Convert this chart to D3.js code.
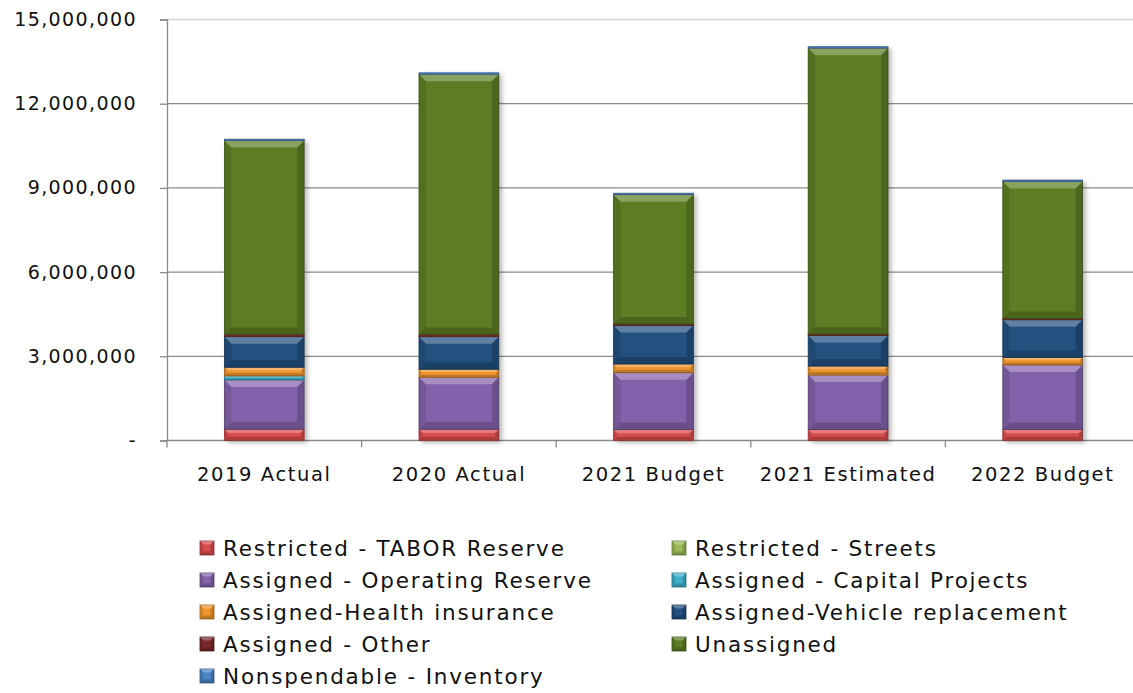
<!DOCTYPE html>
<html>
<head>
<meta charset="utf-8">
<script src="https://cdn.jsdelivr.net/npm/d3@7"></script>
<style>
  body { margin: 0; background: #fff; }
  svg { display: block; }
  text { font-family: "DejaVu Sans", sans-serif; fill: #111; }
</style>
</head>
<body>
<div id="chart"></div>
<script>
// fund balance by category, stacked bottom to top

const categories = ["2019 Actual", "2020 Actual", "2021 Budget", "2021 Estimated", "2022 Budget"];

const taborReserve       = [400000, 400000, 390000, 390000, 390000];
const streets            = [0, 0, 0, 0, 0];
const operatingReserve   = [1756000, 1852000, 2025000, 1940000, 2300000];
const capitalProjects    = [143000, 0, 0, 0, 0];
const healthInsurance    = [310000, 285000, 310000, 320000, 270000];
const vehicleReplacement = [1090000, 1161000, 1375000, 1090000, 1340000];
const assignedOther      = [75000, 75000, 50000, 50000, 50000];
const unassigned         = [6911000, 9277000, 4610000, 10190000, 4880000];
const inventory          = [50000, 50000, 50000, 50000, 50000];

const seriesNames = ["Restricted - TABOR Reserve", "Restricted - Streets",
  "Assigned - Operating Reserve", "Assigned - Capital Projects",
  "Assigned-Health insurance", "Assigned-Vehicle replacement",
  "Assigned - Other", "Unassigned", "Nonspendable - Inventory"];
const seriesValues = [taborReserve, streets, operatingReserve, capitalProjects,
  healthInsurance, vehicleReplacement, assignedOther, unassigned, inventory];
const seriesColors = ["#d84c4c", "#9bbb59", "#8462ab", "#3fb0cc", "#f0962e",
  "#22507f", "#7a2a2a", "#5d7d24", "#4a84c6"];

const yTicks = [0, 3000000, 6000000, 9000000, 12000000, 15000000];

////////////////////////////////////////////////////////////////////////

let svgW = 1133, svgH = 693;
let plotL = 167, plotR = 1140, plotT = 19.5, plotB = 440.5;

let svg = d3.select("#chart").append("svg")
  .attr("width", svgW)
  .attr("height", svgH);

let defs = svg.append("defs");
defs.append("filter").attr("id", "shadow")
  .attr("x", "-20%").attr("y", "-20%").attr("width", "140%").attr("height", "140%")
  .append("feDropShadow")
  .attr("dx", 3).attr("dy", 2).attr("stdDeviation", 2.5)
  .attr("flood-color", "#000").attr("flood-opacity", 0.3);

let table = categories.map(function(c, i) {
  let row = { cat: c };
  seriesNames.forEach(function(n, k) { row[n] = seriesValues[k][i]; });
  return row;
});

let stacked = d3.stack().keys(seriesNames)(table);

let xCat = d3.scaleBand().domain(categories).range([plotL, plotR]);
let xBar = xCat.copy().paddingInner(0.59).paddingOuter(0.295);
let yScale = d3.scaleLinear().domain([0, 15000000]).range([plotB, plotT]);
let color = d3.scaleOrdinal().domain(seriesNames).range(seriesColors);

// gridlines
svg.append("g")
  .selectAll("line")
  .data(yTicks.filter(function(d) { return d > 0; }))
  .enter().append("line")
  .attr("x1", plotL).attr("x2", svgW)
  .attr("y1", function(d) { return yScale(d); })
  .attr("y2", function(d) { return yScale(d); })
  .attr("stroke", function(d) { return d === 15000000 ? "#d4d4d4" : "#8a8a8a"; })
  .attr("stroke-width", 1.3);

// y axis
let yAxis = svg.append("g")
  .attr("transform", "translate(" + plotL + ",0)")
  .call(d3.axisLeft(yScale)
    .tickValues(yTicks)
    .tickSize(7)
    .tickPadding(23)
    .tickFormat(function(d) { return d === 0 ? "-" : d3.format(",")(d); }));
yAxis.select(".domain").attr("stroke", "#8a8a8a").attr("stroke-width", 1.3);
yAxis.selectAll(".tick line").attr("stroke", "#8a8a8a").attr("stroke-width", 1.3);
yAxis.selectAll("text")
  .style("font-size", "19px")
  .style("letter-spacing", "1.4px")
  .style("font-family", "'DejaVu Sans', sans-serif")
  .attr("fill", "#111");

// x axis: line plus ticks at category boundaries
let xAxis = svg.append("g");
xAxis.append("line")
  .attr("x1", plotL).attr("x2", svgW)
  .attr("y1", plotB).attr("y2", plotB)
  .attr("stroke", "#8a8a8a").attr("stroke-width", 1.3);
xAxis.selectAll(".bound")
  .data(categories.concat(["end"]))
  .enter().append("line")
  .attr("x1", function(d, i) { return i < categories.length ? xCat(d) : plotR; })
  .attr("x2", function(d, i) { return i < categories.length ? xCat(d) : plotR; })
  .attr("y1", plotB).attr("y2", plotB + 7)
  .attr("stroke", "#8a8a8a").attr("stroke-width", 1.3);
xAxis.selectAll(".lab")
  .data(categories)
  .enter().append("text")
  .attr("x", function(d) { return xCat(d) + xCat.bandwidth() / 2; })
  .attr("y", 481)
  .attr("text-anchor", "middle")
  .style("font-size", "19.5px")
  .style("letter-spacing", "1.6px")
  .text(function(d) { return d; });

// bevelled block, roughly the office "bevel" look
function bevel(g, x, y, w, h, fill, maxB) {
  let b = Math.min(maxB, h / 3, w / 3);
  g.append("rect")
    .attr("x", x).attr("y", y).attr("width", w).attr("height", h)
    .attr("fill", fill)
    .attr("stroke", d3.color(fill).darker(1.2))
    .attr("stroke-width", 0.8);
  if (b < 0.8) return;
  let polys = [
    { p: [[x, y], [x + w, y], [x + w - b, y + b], [x + b, y + b]], c: "#fff", o: 0.28 },
    { p: [[x, y + h], [x + w, y + h], [x + w - b, y + h - b], [x + b, y + h - b]], c: "#000", o: 0.2 },
    { p: [[x, y], [x + b, y + b], [x + b, y + h - b], [x, y + h]], c: "#000", o: 0.1 },
    { p: [[x + w, y], [x + w - b, y + b], [x + w - b, y + h - b], [x + w, y + h]], c: "#000", o: 0.18 }
  ];
  g.selectAll(null).data(polys).enter().append("polygon")
    .attr("points", function(d) { return d.p.map(function(q) { return q.join(","); }).join(" "); })
    .attr("fill", function(d) { return d.c; })
    .attr("fill-opacity", function(d) { return d.o; });
}

// shadows under each full bar
let totals = stacked[stacked.length - 1];
svg.append("g").selectAll("rect")
  .data(totals)
  .enter().append("rect")
  .attr("x", function(d) { return xBar(d.data.cat); })
  .attr("y", function(d) { return yScale(d[1]); })
  .attr("width", xBar.bandwidth())
  .attr("height", function(d) { return yScale(0) - yScale(d[1]); })
  .attr("fill", "#fff")
  .attr("filter", "url(#shadow)");

// segments
let barLayer = svg.append("g");
stacked.forEach(function(s) {
  s.forEach(function(d) {
    let h = yScale(d[0]) - yScale(d[1]);
    if (h <= 0) return;
    bevel(barLayer.append("g"), xBar(d.data.cat), yScale(d[1]), xBar.bandwidth(), h, color(s.key), 7);
  });
});

// legend, two columns filled row by row
let legend = svg.append("g");
seriesNames.forEach(function(n, i) {
  let col = i % 2, row = Math.floor(i / 2);
  let lx = col === 0 ? 200 : 672;
  let ly = 548 + row * 32;
  let g = legend.append("g");
  bevel(g, lx, ly - 7, 14, 14, color(n), 3.5);
  g.append("text")
    .attr("x", lx + 23)
    .attr("y", ly)
    .attr("dy", "0.36em")
    .style("font-size", "21.5px")
    .style("letter-spacing", "1.8px")
    .text(n);
});
</script>
</body>
</html>
